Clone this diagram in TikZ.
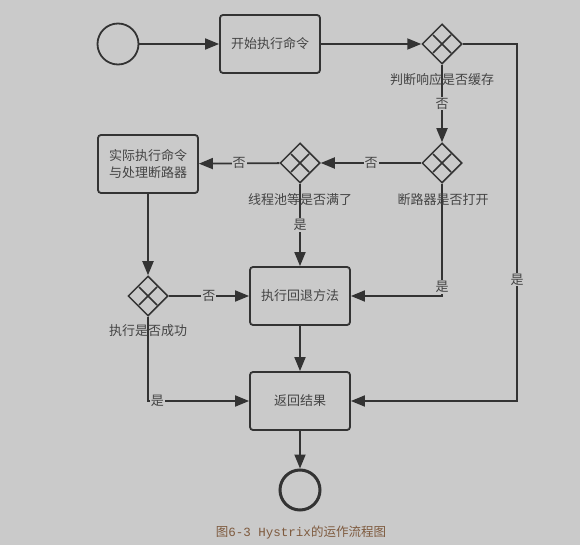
\documentclass[tikz,border=0pt]{standalone}
\usepackage{fontspec}
\setmainfont{Noto Sans CJK SC}
\newfontfamily\capmono{Liberation Mono}
\usetikzlibrary{arrows.meta, shapes.geometric}
\definecolor{bgc}{HTML}{CACACA}
\definecolor{lc}{HTML}{333333}
\definecolor{tc}{HTML}{444444}
\definecolor{capc}{HTML}{7E5A3E}
\begin{document}
\begin{tikzpicture}[x=1pt,y=-1pt,
  box/.style={draw=lc, line width=1.8pt, rounded corners=3pt, minimum width=100pt, minimum height=58pt, inner sep=0pt, align=center, text=tc, font=\fontsize{13}{17}\selectfont},
  gate/.style={diamond, draw=lc, line width=1.5pt, minimum width=40pt, minimum height=40pt, inner sep=0pt,
    path picture={\draw[lc, line width=1.5pt] ([shift={(-9pt,-9pt)}]path picture bounding box.center) -- ([shift={(9pt,9pt)}]path picture bounding box.center);
                  \draw[lc, line width=1.5pt] ([shift={(-9pt,9pt)}]path picture bounding box.center) -- ([shift={(9pt,-9pt)}]path picture bounding box.center);}},
  glbl/.style={text=tc, font=\fontsize{13}{15}\selectfont, inner sep=0pt},
  lbl/.style={fill=bgc, text=tc, font=\fontsize{13}{15}\selectfont, inner sep=1pt},
  arr/.style={draw=lc, line width=1.8pt, -{Triangle[length=14pt,width=11pt]}},
  ln/.style={draw=lc, line width=1.8pt}
]
\fill[bgc] (0,0) rectangle (580,545);
\useasboundingbox (0,0) rectangle (580,545);

\node[circle, draw=lc, line width=1.8pt, minimum size=41pt, inner sep=0pt] (start) at (118,44) {};
\node[box] (b1) at (270,44) {开始执行命令};
\node[gate] (g1) at (442,44) {};
\node[gate] (g2) at (442,163) {};
\node[gate] (g3) at (300,163) {};
\node[box] (b2) at (148,164) {实际执行命令\\与处理断路器};
\node[gate] (g4) at (148,296) {};
\node[box] (b3) at (300,296) {执行回退方法};
\node[box] (b4) at (300,401) {返回结果};
\node[circle, draw=lc, line width=3pt, minimum size=40pt, inner sep=0pt] (end) at (300,490) {};
\coordinate (rc) at (517,401);

\draw[arr] (start) -- (b1);
\draw[arr] (b1) -- (g1);
\draw[arr] (g1) -- node[lbl]{否} (g2);
\draw[arr] (g2) -- node[lbl]{否} (g3);
\draw[arr] (g3) -- node[lbl]{否} (b2);
\draw[arr] (g3) -- node[lbl]{是} (b3);
\draw[arr] (g2.south) |- node[lbl, pos=0.46]{是} (b3.east);
\draw[arr] (g1.east) -| node[lbl, pos=0.83]{是} (rc) -- (b4.east);
\draw[arr] (b2) -- (g4);
\draw[arr] (g4) -- node[lbl]{否} (b3);
\draw[arr] (g4.south) |- node[lbl, pos=0.5, anchor=west, xshift=1pt]{是} (b4.west);
\draw[arr] (b3) -- (b4);
\draw[arr] (b4) -- (end);

\node[glbl] (l1) at (442,80) {判断响应是否缓存};
\node[glbl] (l2) at (443,200) {断路器是否打开};
\node[glbl] (l3) at (300,200) {线程池等是否满了};
\node[glbl] (l4) at (148,331) {执行是否成功};

\node[text=capc, font=\fontsize{12.5}{15}\selectfont, inner sep=0pt] (cap) at (301,533) {图{\capmono 6-3 Hystrix}的运作流程图};
\end{tikzpicture}
\end{document}
